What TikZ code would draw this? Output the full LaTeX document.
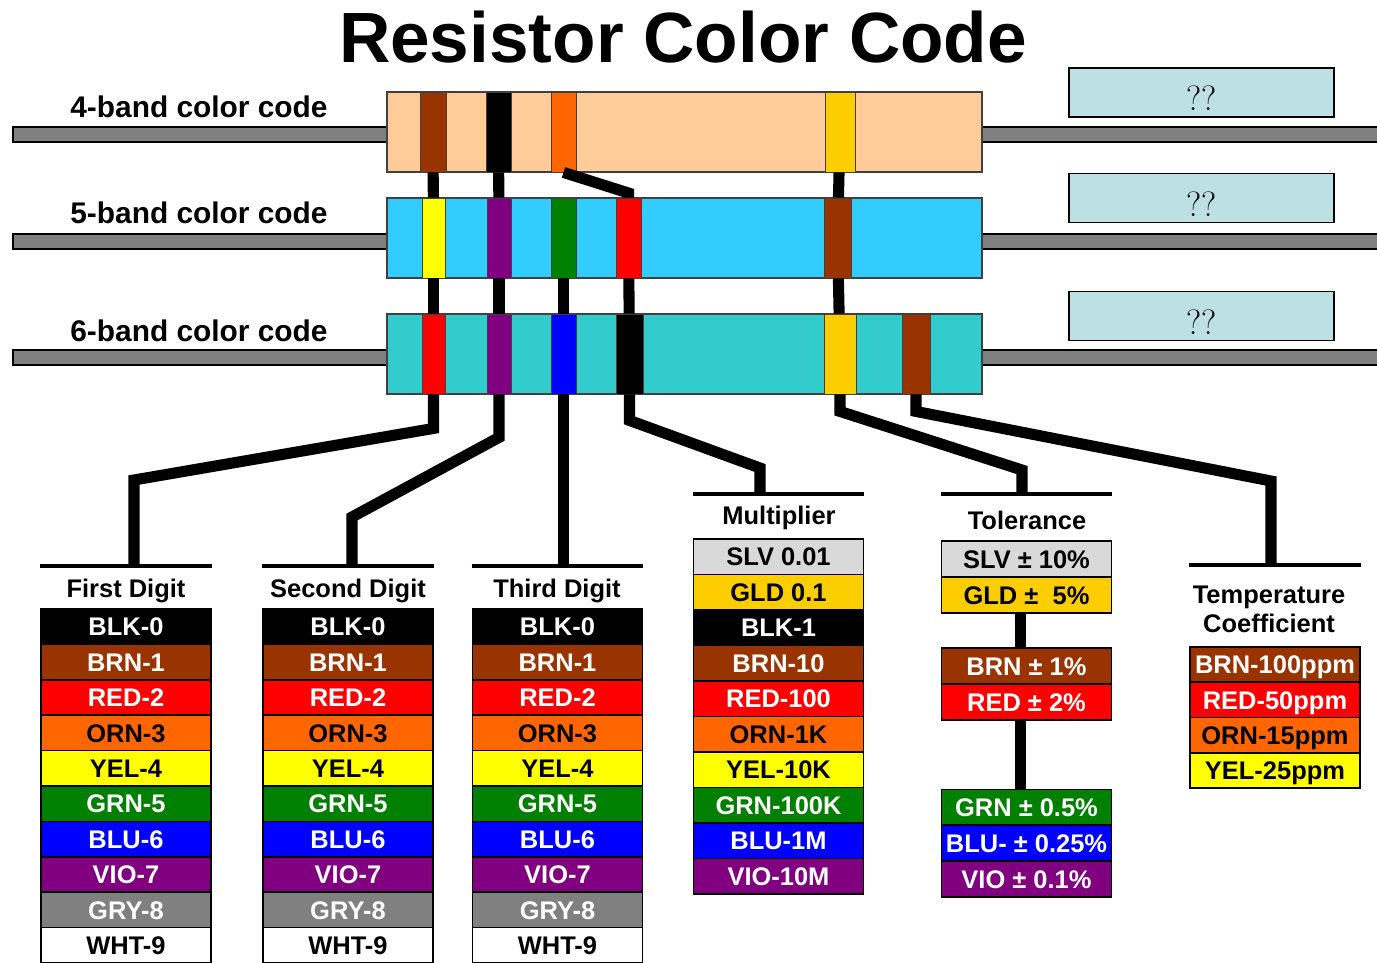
\documentclass[tikz,border=0pt]{standalone}
\usepackage{fontspec}
\setsansfont{Liberation Sans}
\definecolor{cblk}{RGB}{0,0,0}
\definecolor{cbrn}{RGB}{153,51,0}
\definecolor{cred}{RGB}{255,0,0}
\definecolor{corn}{RGB}{255,102,0}
\definecolor{cyel}{RGB}{255,255,0}
\definecolor{cgrn}{RGB}{0,128,0}
\definecolor{cblu}{RGB}{0,0,255}
\definecolor{cvio}{RGB}{128,0,128}
\definecolor{cgry}{RGB}{128,128,128}
\definecolor{cwht}{RGB}{255,255,255}
\definecolor{cslv}{RGB}{217,217,217}
\definecolor{cgld}{RGB}{252,206,0}
\definecolor{peach}{RGB}{255,204,153}
\definecolor{skyb}{RGB}{51,204,255}
\definecolor{tealb}{RGB}{51,204,204}
\definecolor{qfill}{RGB}{188,224,228}
\begin{document}
\begin{tikzpicture}[x=0.02cm,y=-0.02cm,line join=miter,
  lead/.style={draw=black,fill=cgry,line width=0.9pt},
  body/.style={draw=black!75,line width=0.8pt,minimum width=11.9cm,minimum height=1.6cm,inner sep=0pt},
  band/.style={draw=black!75,line width=0.5pt,minimum width=0.5cm,minimum height=1.6cm,inner sep=0pt},
  wire/.style={line width=6.3pt},
  hline/.style={line width=2.8pt},
  cell/.style={draw=black,line width=0.9pt,minimum width=3.4cm,minimum height=0.71cm,inner sep=0pt,
    text height=10.4pt,text depth=0pt,font=\sffamily\bfseries\fontsize{14.5}{15}\selectfont},
  headtxt/.style={font=\sffamily\bfseries\fontsize{14.5}{16.5}\selectfont,align=center},
  bandlbl/.style={anchor=base west,inner sep=0pt,font=\sffamily\bfseries\fontsize{17}{17}\selectfont},
  qbox/.style={draw=black,line width=1pt,fill=qfill,minimum width=5.3cm,minimum height=0.98cm,
    inner sep=0pt,text height=21pt,text depth=0pt,font=\fontsize{20}{20}\selectfont}]
  \useasboundingbox (0,0) rectangle (1377,963);
  \node[font=\sffamily\bfseries\fontsize{40.5}{40.5}\selectfont] (ttl) at (683,37) {Resistor Color Code};
  % leads
  \foreach \ly in {127,234,350} {
    \draw[lead] (13,\ly) rectangle (387,\ly+15);
    \draw[lead] (982,\ly) rectangle (1385,\ly+15);
  }
  \node[bandlbl] (l4) at (70,118) {4-band color code};
  \node[bandlbl] (l5) at (70,223) {5-band color code};
  \node[bandlbl] (l6) at (70,341) {6-band color code};
  % resistor bodies
  \node[body,fill=peach] (r4) at (684.5,132) {};
  \node[body,fill=skyb] (r5) at (684.5,238) {};
  \node[body,fill=tealb] (r6) at (684.5,354) {};
  \foreach \nm/\cl/\bx/\bw in {b4a/cbrn/433/0.52,b4b/cblk/498.5/0.5,b4c/corn/563.5/0.5,b4d/cgld/840/0.6}
    \node[band,fill=\cl,minimum width=\bw cm] (\nm) at (\bx,132) {};
  \foreach \nm/\cl/\bx/\bw in {b5a/cyel/433.5/0.46,b5b/cvio/499/0.48,b5c/cgrn/563.5/0.5,b5d/cred/628.5/0.5,b5e/cbrn/837.5/0.54}
    \node[band,fill=\cl,minimum width=\bw cm] (\nm) at (\bx,238) {};
  \foreach \nm/\cl/\bx/\bw in {b6a/cred/433.5/0.46,b6b/cvio/499/0.48,b6c/cblu/563.5/0.5,b6d/cblk/629.5/0.54,b6e/cgld/840/0.64,b6f/cbrn/916/0.56}
    \node[band,fill=\cl,minimum width=\bw cm] (\nm) at (\bx,354) {};
  % ?? boxes
  \node[qbox] (q4) at (1201.5,92.5) {??};
  \node[qbox] (q5) at (1201.5,198) {??};
  \node[qbox] (q6) at (1201.5,316) {??};
  % wires between bodies
  \draw[wire] (b4a) -- (b5a);
  \draw[wire] (b4b) -- (b5b);
  \draw[wire] (b4c.south) -- (b5d.north |- 0,193) -- (b5d.north);
  \draw[wire] (b4d) -- (b5e);
  \draw[wire] (b5a) -- (b6a);
  \draw[wire] (b5b) -- (b6b);
  \draw[wire] (b5c) -- (b6c);
  \draw[wire] (b5d) -- (b6d);
  \draw[wire] (b5e) -- (b6e);
  % digit tables
  \foreach \nm/\cx in {fd/126,sd/348,td/557.5} {
    \foreach \cl/\tc/\txt [count=\i from 0] in {cblk/white/BLK-0,cbrn/white/BRN-1,cred/white/RED-2,
        corn/black/ORN-3,cyel/black/YEL-4,cgrn/white/GRN-5,cblu/white/BLU-6,cvio/white/VIO-7,
        cgry/white/GRY-8,cwht/black/WHT-9}
      \node[cell,fill=\cl,text=\tc] (\nm\i) at (\cx,{626.7+35.4*\i}) {\txt};
  }
  % multiplier
  \foreach \cl/\tc/\txt [count=\i from 0] in {cslv/black/SLV 0.01,cgld/black/GLD 0.1,cblk/white/BLK-1,
      cbrn/white/BRN-10,cred/white/RED-100,corn/black/ORN-1K,cyel/black/YEL-10K,cgrn/white/GRN-100K,
      cblu/white/BLU-1M,cvio/white/VIO-10M}
    \node[cell,fill=\cl,text=\tc] (ml\i) at (778.5,{556.7+35.5*\i}) {\txt};
  % tolerance
  \foreach \cl/\tc/\txt/\yy [count=\i] in {cslv/black/SLV ± 10\%/559,cgld/black/GLD ± \ 5\%/595,
      cbrn/white/BRN ± 1\%/666,cred/white/RED ± 2\%/702,cgrn/white/GRN ± 0.5\%/807.5,
      cblu/white/BLU- ± 0.25\%/843,cvio/white/VIO ± 0.1\%/879}
    \node[cell,fill=\cl,text=\tc,minimum height=0.72cm] (tl\i) at (1026.5,\yy) {\txt};
  \draw[wire] ([xshift=-3.4pt]tl2.south) -- ([xshift=-3.4pt]tl3.north);
  \draw[wire] ([xshift=-3.4pt]tl4.south) -- ([xshift=-3.4pt]tl5.north);
  % temperature coefficient
  \foreach \cl/\tc/\txt [count=\i from 0] in {cbrn/white/BRN-100ppm,cred/white/RED-50ppm,
      corn/black/ORN-15ppm,cyel/black/YEL-25ppm}
    \node[cell,fill=\cl,text=\tc] (tc\i) at (1275,{664.6+35.3*\i}) {\txt};
  % headers
  \node[headtxt] (hd1) at (126,591) {First Digit};
  \node[headtxt] (hd2) at (348,591) {Second Digit};
  \node[headtxt] (hd3) at (557,591) {Third Digit};
  \node[headtxt] (hd4) at (779,518) {Multiplier};
  \node[headtxt] (hd5) at (1027,520) {Tolerance};
  \node[headtxt] (hd6) at (1269,609) {Temperature\\Coefficient};
  % wires to the tables
  \coordinate (j1a) at (134,480); \coordinate (j1) at (134,566);
  \coordinate (j2a) at (352,517); \coordinate (j2) at (352,566);
  \coordinate (j3) at (563.5,566);
  \coordinate (j4a) at (760,468); \coordinate (j4) at (760,494);
  \coordinate (j5a) at (1022,470); \coordinate (j5) at (1022,494);
  \coordinate (j6a) at (1271,481); \coordinate (j6) at (1271,565);
  \draw[wire] (b6a.south) -- ++(0,34) -- (j1a) -- (j1);
  \draw[wire] (b6b.south) -- ++(0,43) -- (j2a) -- (j2);
  \draw[wire] (b6c.south) -- (j3);
  \draw[wire] (b6d.south) -- ++(0,26) -- (j4a) -- (j4);
  \draw[wire] (b6e.south) -- ++(0,17) -- (j5a) -- (j5);
  \draw[wire] (b6f.south) -- ++(0,17) -- (j6a) -- (j6);
  \draw[hline] (fd0.west |- j1) -- (fd0.east |- j1);
  \draw[hline] (sd0.west |- j2) -- (sd0.east |- j2);
  \draw[hline] (td0.west |- j3) -- (td0.east |- j3);
  \draw[hline] (ml0.west |- j4) -- (ml0.east |- j4);
  \draw[hline] (tl1.west |- j5) -- (tl1.east |- j5);
  \draw[hline] (tc0.west |- j6) -- (tc0.east |- j6);
\end{tikzpicture}
\end{document}
